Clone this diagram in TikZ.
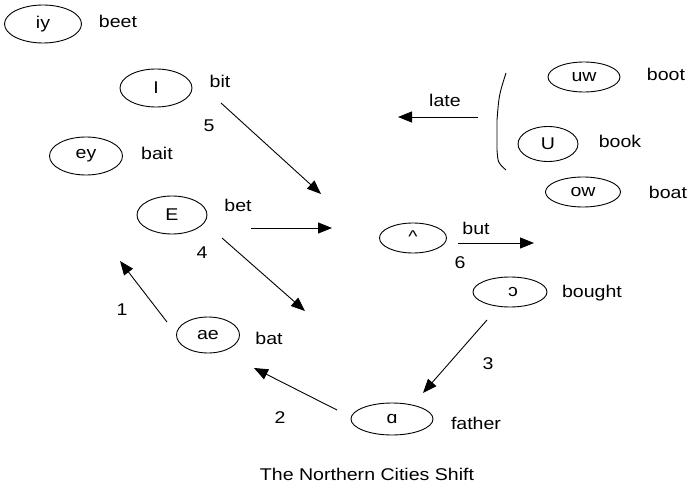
\documentclass[tikz,border=0pt]{standalone}
\usepackage{fontspec}
\setmainfont{Liberation Sans}[FakeStretch=1.15]
\usetikzlibrary{shapes.geometric,arrows.meta}
\tikzset{
  vow/.style={draw, ellipse, inner sep=0pt, line width=0.9pt},
  lbl/.style={inner sep=0pt},
  shiftarrow/.style={line width=0.9pt, -{Triangle[length=14pt,width=11pt]}},
}
\begin{document}
\begin{tikzpicture}[x=1pt,y=-1pt,font=\fontsize{17}{20}\selectfont]
\useasboundingbox (0,0) rectangle (691,489);
% vowels
\node[vow, minimum width=77pt, minimum height=38pt] (iy) at (43,24) {iy};
\node[lbl] (beet) at (118,21) {beet};
\node[vow, minimum width=72pt, minimum height=38pt] (I) at (156,88) {I};
\node[lbl] (bit) at (220,81) {bit};
\node[lbl] (n5) at (209,126) {5};
\node[vow, minimum width=73pt, minimum height=38pt] (ey) at (86,156) {ey};
\node[lbl] (bait) at (157,153) {bait};
\node[vow, minimum width=70pt, minimum height=38pt] (E) at (172,215) {E};
\node[lbl] (bet) at (238,205) {bet};
\node[lbl] (n4) at (202,253) {4};
\node[vow, minimum width=63pt, minimum height=36pt] (ae) at (208,335) {ae};
\node[lbl] (bat) at (269,338) {bat};
\node[lbl] (n1) at (122,310) {1};
\node[vow, minimum width=82pt, minimum height=32pt] (aa) at (392,419) {ɑ};
\node[lbl] (father) at (476,423) {father};
\node[lbl] (n2) at (280,418) {2};
\node[vow, minimum width=67pt, minimum height=30pt] (uh) at (413,238) {\raisebox{2pt}{\^{}}};
\node[lbl] (but) at (476,228) {but};
\node[lbl] (n6) at (460,263) {6};
\node[vow, minimum width=74pt, minimum height=30pt] (oh) at (510,292) {\hspace{6pt}ɔ};
\node[lbl] (bought) at (592,293) {bought};
\node[lbl] (n3) at (488,364) {3};
\node[vow, minimum width=72pt, minimum height=30pt] (uw) at (584,77) {uw};
\node[lbl] (boot) at (666,74) {boot};
\node[vow, minimum width=60pt, minimum height=35pt] (U) at (548,144) {U};
\node[lbl] (book) at (620,141) {book};
\node[vow, minimum width=75pt, minimum height=30pt] (ow) at (583,192) {ow};
\node[lbl] (boat) at (668,192) {boat};
\node[lbl] (late) at (445,100) {late};
\node[lbl] (title) at (367,474) {The Northern Cities Shift};
% arrow end points
\coordinate (a1s) at (167,322); \coordinate (a1e) at (120,261);
\coordinate (a2s) at (337,410); \coordinate (a2e) at (254,368);
\coordinate (a3s) at (487,320); \coordinate (a3e) at (423,393);
\coordinate (a4s) at (222,238); \coordinate (a4e) at (305,311);
\coordinate (a5s) at (221,103); \coordinate (a5e) at (321,194);
\coordinate (abs) at (251,228); \coordinate (abe) at (332,228);
\coordinate (a6s) at (458,243); \coordinate (a6e) at (534,243);
\coordinate (als) at (478,117); \coordinate (ale) at (398,117);
\draw[shiftarrow] (a1s) -- (a1e);
\draw[shiftarrow] (a2s) -- (a2e);
\draw[shiftarrow] (a3s) -- (a3e);
\draw[shiftarrow] (a4s) -- (a4e);
\draw[shiftarrow] (a5s) -- (a5e);
\draw[shiftarrow] (abs) -- (abe);
\draw[shiftarrow] (a6s) -- (a6e);
\draw[shiftarrow] (als) -- (ale);
% bracket
\coordinate (bt) at (506,73); \coordinate (bb) at (506,170);
\draw[line width=0.9pt] (bt) .. controls (499,95) .. (497,120) -- (497,150) .. controls (498,163) .. (bb);
\end{tikzpicture}
\end{document}
